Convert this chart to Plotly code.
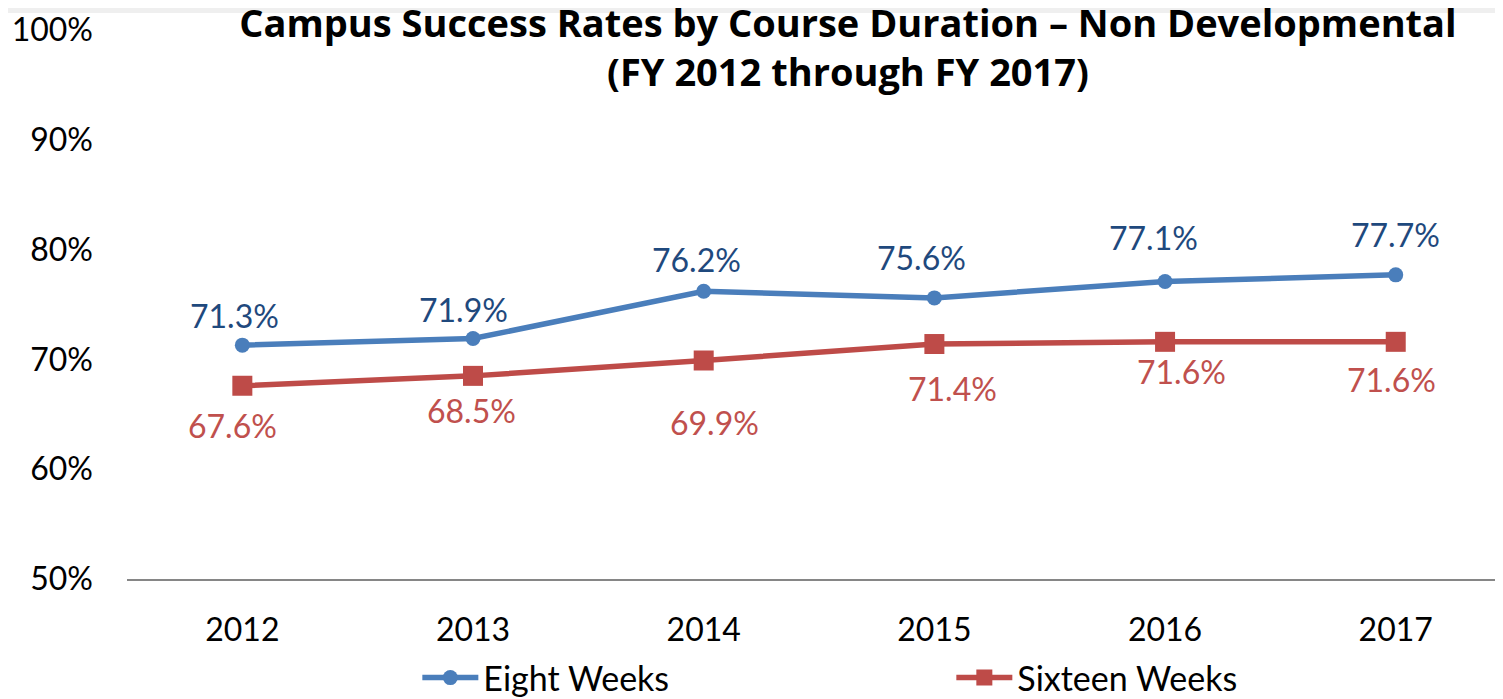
import plotly.graph_objects as go

# ---- data ----
years = ["2012", "2013", "2014", "2015", "2016", "2017"]
eight_weeks = [71.3, 71.9, 76.2, 75.6, 77.1, 77.7]
sixteen_weeks = [67.6, 68.5, 69.9, 71.4, 71.6, 71.6]
y_ticks = [50, 60, 70, 80, 90, 100]
y_tick_labels = ["50%", "60%", "70%", "80%", "90%", "100%"]

# label placement (pixel offsets dx, dy; dy positive = downward), as in the reference
eight_label_offsets = [(-8, -30), (-10, -29), (-7, -32), (-13, -40), (-12, -44), (0, -40)]
sixteen_label_offsets = [(-10, 40), (-2, 35), (11, 62), (18, 44), (16, 30), (-4, 38)]

FONT = "Lato, 'Open Sans', sans-serif"
TITLE_FONT = "'Open Sans', Lato, sans-serif"
BLUE_LINE = "#4A7EBB"
BLUE_TEXT = "#1F497D"
RED_LINE = "#BE4B48"
RED_TEXT = "#C0504D"

# the page body adds an 8px margin, so the figure is sized to the visible area
W, H = 1495, 691
PLOT_H = 549
TOP = 22

fig = go.Figure()
fig.add_trace(go.Scatter(
    x=years, y=eight_weeks, name="Eight Weeks", mode="lines+markers",
    line=dict(color=BLUE_LINE, width=5.5),
    marker=dict(symbol="circle", size=15, color=BLUE_LINE),
    hoverinfo="skip",
))
fig.add_trace(go.Scatter(
    x=years, y=sixteen_weeks, name="Sixteen Weeks", mode="lines+markers",
    line=dict(color=RED_LINE, width=5.5),
    marker=dict(symbol="square", size=20, color=RED_LINE),
    hoverinfo="skip",
))

annotations = []
for i, (v, (dx, dy)) in enumerate(zip(eight_weeks, eight_label_offsets)):
    annotations.append(dict(x=i, y=v, xref="x", yref="y", text=f"{v:.1f}%",
                            showarrow=False, xshift=dx, yshift=-dy,
                            xanchor="center", yanchor="middle",
                            font=dict(family=FONT, size=32, color=BLUE_TEXT)))
for i, (v, (dx, dy)) in enumerate(zip(sixteen_weeks, sixteen_label_offsets)):
    annotations.append(dict(x=i, y=v, xref="x", yref="y", text=f"{v:.1f}%",
                            showarrow=False, xshift=dx, yshift=-dy,
                            xanchor="center", yanchor="middle",
                            font=dict(family=FONT, size=32, color=RED_TEXT)))

fig.update_layout(
    width=W, height=H,
    paper_bgcolor="white", plot_bgcolor="white",
    margin=dict(l=119, r=0, t=TOP, b=H - TOP - PLOT_H, autoexpand=False),
    font=dict(family=FONT, color="#000000"),
    title=dict(
        text="<b>Campus Success Rates by Course Duration – Non Developmental</b><br><b>(FY 2012 through FY 2017)</b>",
        x=(848 - 8) / W, xanchor="center", xref="container",
        y=1 - 28.5 / H, yanchor="top", yref="container",
        font=dict(family=TITLE_FONT, size=38, color="#000000"),
    ),
    xaxis=dict(
        type="category", range=[-0.5, 5.465],
        showgrid=False, zeroline=False,
        showline=True, linecolor="#868686", linewidth=2,
        ticks="", tickfont=dict(family=FONT, size=32, color="#000000"),
        ticklabelstandoff=22, automargin=False,
        fixedrange=True,
    ),
    yaxis=dict(
        range=[50, 100], tickvals=y_ticks, ticktext=y_tick_labels,
        showgrid=False, zeroline=False, showline=False, ticks="",
        tickfont=dict(family=FONT, size=32, color="#000000"),
        ticklabelstandoff=33, automargin=False,
        fixedrange=True,
    ),
    showlegend=True,
    legend=dict(
        orientation="h", x=0.211, xanchor="left", y=-(678 - 579) / PLOT_H, yanchor="middle",
        font=dict(family=FONT, size=34, color="#000000"),
        entrywidth=463, entrywidthmode="pixels",
        itemwidth=56, bgcolor="rgba(0,0,0,0)",
    ),
    annotations=annotations,
    shapes=[dict(type="rect", xref="paper", yref="paper", x0=-0.1, x1=1.01,
                 y0=1 + 17 / PLOT_H, y1=1 + TOP / PLOT_H, line=dict(width=0),
                 fillcolor="#EFEFEF", layer="below")],
)

fig.write_html("out.html")
